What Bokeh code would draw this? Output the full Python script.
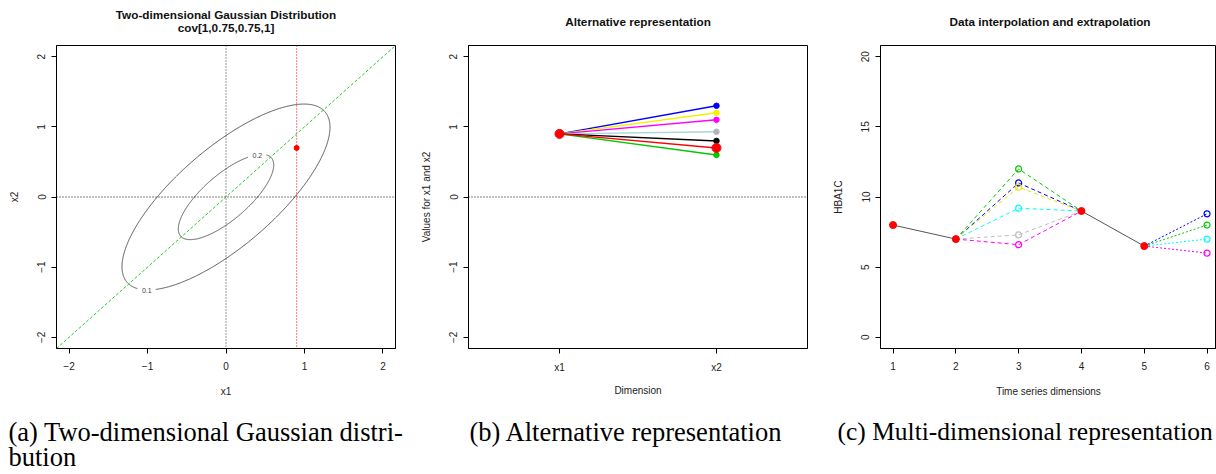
import numpy as np
from bokeh.plotting import figure
from bokeh.models import FixedTicker, Span, Slope, Range1d
from bokeh.layouts import row, column
from bokeh.embed import file_html
from bokeh.resources import INLINE
from bokeh.core.properties import value

# ---------------- Panel (a): two-dimensional Gaussian ----------------
gauss_mean = [0.0, 0.0]
gauss_cov = [1.0, 0.75, 0.75, 1.0]
contour_levels = [0.1, 0.2]
contour_labels = ["0.1", "0.2"]
contour_label_x = [-1.01, 0.40]
contour_label_y = [-1.33, 0.59]
obs_point_x1 = [0.9]
obs_point_x2 = [0.7]
a_ticks = [-2, -1, 0, 1, 2]
a_title = ["Two-dimensional Gaussian Distribution", "cov[1,0.75,0.75,1]"]
a_caption = ["(a) Two-dimensional Gaussian distri-", "bution"]

# ---------------- Panel (b): alternative representation ----------------
b_dims = ["x1", "x2"]
b_dim_pos = [1, 2]
b_start = 0.9
b_end = [1.3, 1.2, 1.1, 0.93, 0.8, 0.6, 0.7]
b_colors = ["#0000FF", "#F2F200", "#FF00FF", "#A9D6D6", "#000000", "#00C800", "#FF0000"]
b_point_colors = ["#0000FF", "#F2F200", "#FF00FF", "#B4B4B4", "#000000", "#00C800", "#FF0000"]
b_yticks = [-2, -1, 0, 1, 2]
b_title = ["Alternative representation"]
b_caption = ["(b) Alternative representation"]

# ---------------- Panel (c): interpolation / extrapolation ----------------
c_obs_x = [1, 2, 4, 5]
c_obs_y = [8, 7, 9, 6.5]
c_interp_x = 3
c_interp_vals = [12, 11, 10.7, 9.2, 7.3, 6.6]
c_interp_colors = ["#00C800", "#0000FF", "#E6E600", "#00FFFF", "#BEBEBE", "#FF00FF"]
c_extrap_x = 6
c_extrap_vals = [8.8, 8.0, 7.0, 6.0]
c_extrap_colors = ["#0000FF", "#00C800", "#00FFFF", "#FF00FF"]
c_xticks = [1, 2, 3, 4, 5, 6]
c_yticks = [0, 5, 10, 15, 20]
c_title = ["Data interpolation and extrapolation"]
c_caption = ["(c) Multi-dimensional representation"]

SANS = "Liberation Sans"
SERIF = "Liberation Serif"

# ---------------- layout constants (pixels) ----------------
W, H = 1216, 474
PANEL_W = [412, 412, 392]
PANEL_X0 = [0, 412, 824]
FRAME_L = 56
FRAME_W = 339
TOP_STRIP = 40
MAIN_H = 365          # frame 45..348, border below to 405
CAP_H = H - TOP_STRIP - MAIN_H


def style(p, x_label_standoff=13):
    p.xgrid.visible = False
    p.ygrid.visible = False
    p.outline_line_color = "black"
    p.outline_line_width = 1
    p.outline_line_alpha = 1
    for ax in p.axis:
        ax.major_tick_out = 5
        ax.major_tick_in = 0
        ax.minor_tick_out = 0
        ax.minor_tick_in = 0
        ax.axis_line_color = "black"
        ax.major_tick_line_color = "black"
        ax.major_label_text_font = SANS
        ax.major_label_text_font_size = "10px"
        ax.major_label_text_color = "#222222"
        ax.axis_label_text_font = SANS
        ax.axis_label_text_font_size = "10px"
        ax.axis_label_text_font_style = "normal"
        ax.axis_label_text_color = "#222222"
    p.xaxis.major_label_standoff = 8
    p.xaxis.axis_label_standoff = x_label_standoff
    p.yaxis.major_label_standoff = 6
    p.yaxis.axis_label_standoff = 15
    p.yaxis.major_label_orientation = "vertical"


def make_fig(width, xr, yr, right_border=17):
    p = figure(width=width, height=MAIN_H, output_backend="svg", toolbar_location=None,
               title=None, x_range=Range1d(*xr), y_range=Range1d(*yr),
               min_border_left=FRAME_L, min_border_right=right_border,
               min_border_top=5, min_border_bottom=57)
    return p


def strip(height, y_top):
    s = figure(width=W, height=height, output_backend="svg", toolbar_location=None,
               title=None, x_range=Range1d(0, W), y_range=Range1d(y_top + height, y_top),
               x_axis_type=None, y_axis_type=None, min_border=0)
    s.xgrid.visible = False
    s.ygrid.visible = False
    s.outline_line_color = None
    return s


# ===== Panel (a) =====
pa = make_fig(PANEL_W[0], (-2.16, 2.16), (-2.16, 2.16))
style(pa)
pa.xaxis.ticker = FixedTicker(ticks=a_ticks)
pa.yaxis.ticker = FixedTicker(ticks=a_ticks)
pa.xaxis.axis_label = "x1"
pa.yaxis.axis_label = "x2"

S = np.array(gauss_cov).reshape(2, 2)
det = np.linalg.det(S)
norm = 1.0 / (2 * np.pi * np.sqrt(det))
Lc = np.linalg.cholesky(S)
t = np.linspace(0, 2 * np.pi, 721)
px_x = 339 / 4.32
px_y = 303 / 4.32
for lev, lx, ly in zip(contour_levels, contour_label_x, contour_label_y):
    q = -2 * np.log(lev / norm)
    pts = Lc @ np.vstack([np.cos(t), np.sin(t)]) * np.sqrt(q)
    ex = pts[0] + gauss_mean[0]
    ey = pts[1] + gauss_mean[1]
    gap = (np.abs((ex - lx) * px_x) < 9) & (np.abs((ey - ly) * px_y) < 7)
    ex = np.where(gap, np.nan, ex)
    ey = np.where(gap, np.nan, ey)
    pa.line(ex, ey, line_color="#555555", line_width=1)

pa.text(contour_label_x, contour_label_y, text=contour_labels, text_font=value(SANS),
        text_font_size="7px", text_align="center", text_baseline="middle",
        text_color="#444444")

pa.add_layout(Span(location=0, dimension="height", line_color="#333333",
                   line_dash="1 2", line_width=1))
pa.add_layout(Span(location=0, dimension="width", line_color="#000000",
                   line_dash="1 2", line_width=1))
pa.add_layout(Span(location=obs_point_x1[0], dimension="height", line_color="#FF0000",
                   line_dash="1 2", line_width=1))
pa.add_layout(Slope(gradient=1, y_intercept=0, line_color="#22CC22",
                    line_dash="3 2", line_width=1))
pa.scatter(obs_point_x1, obs_point_x2, size=5, color="#FF0000")

# ===== Panel (b) =====
pb = make_fig(PANEL_W[1], (0.42, 2.58), (-2.16, 2.16))
style(pb, x_label_standoff=9)
pb.xaxis.ticker = FixedTicker(ticks=b_dim_pos)
pb.xaxis.major_label_overrides = {pos: lab for pos, lab in zip(b_dim_pos, b_dims)}
pb.yaxis.ticker = FixedTicker(ticks=b_yticks)
pb.xaxis.axis_label = "Dimension"
pb.yaxis.axis_label = "Values for x1 and x2"
pb.add_layout(Span(location=0, dimension="width", line_color="#000000",
                   line_dash="1 2", line_width=1))
n = len(b_end)
pb.segment(x0=[b_dim_pos[0]] * n, y0=[b_start] * n, x1=[b_dim_pos[1]] * n, y1=b_end,
           line_color=b_colors, line_width=1.5)
sizes = [9 if c == "#FF0000" else 5.5 for c in b_point_colors]
pb.scatter([b_dim_pos[1]] * n, b_end, size=sizes, color=b_point_colors)
pb.scatter([b_dim_pos[0]], [b_start], size=9, color="#FF0000")

# ===== Panel (c) =====
pc = make_fig(PANEL_W[2], (0.8, 0.8 + 336 / 62.8), (-0.8, 20.8), right_border=0)
style(pc)
pc.xaxis.ticker = FixedTicker(ticks=c_xticks)
pc.yaxis.ticker = FixedTicker(ticks=c_yticks)
pc.xaxis.axis_label = "Time series dimensions"
pc.yaxis.axis_label = "HBA1C"

for v, col in zip(c_interp_vals, c_interp_colors):
    pc.line([c_obs_x[1], c_interp_x, c_obs_x[2]], [c_obs_y[1], v, c_obs_y[2]],
            line_color=col, line_width=1, line_dash="4 3")
for v, col in zip(c_extrap_vals, c_extrap_colors):
    pc.line([c_obs_x[3], c_extrap_x], [c_obs_y[3], v],
            line_color=col, line_width=1, line_dash="2 2")
pc.line(c_obs_x[:2], c_obs_y[:2], line_color="#555555", line_width=1)
pc.line(c_obs_x[2:], c_obs_y[2:], line_color="#555555", line_width=1)
pc.scatter([c_interp_x] * len(c_interp_vals), c_interp_vals, size=6, fill_color=None,
           line_color=c_interp_colors, line_width=1.2)
pc.scatter([c_extrap_x] * len(c_extrap_vals), c_extrap_vals, size=6, fill_color=None,
           line_color=c_extrap_colors, line_width=1.2)
pc.scatter(c_obs_x, c_obs_y, size=7, color="#FF0000")

# ===== Title strip (page coordinates, y downwards) =====
top = strip(TOP_STRIP, 0)
centers = [x0 + FRAME_L + FRAME_W / 2 for x0 in PANEL_X0]
title_x, title_y, title_txt = [], [], []
for cx, lines in zip(centers, [a_title, b_title, c_title]):
    if len(lines) == 2:
        ys = [14, 27]
    else:
        ys = [21]
    for yy, tt in zip(ys, lines):
        title_x.append(cx)
        title_y.append(yy)
        title_txt.append(tt)
top.text(title_x, title_y, text=title_txt, text_font=value(SANS), text_font_size="11.75px",
         text_font_style="bold", text_align="center", text_baseline="middle",
         text_color="#111111")

# ===== Caption strip (page coordinates, y downwards) =====
cap = strip(CAP_H, TOP_STRIP + MAIN_H)
cap.text([8, 8, 469], [431, 456, 431], text=[a_caption[0], a_caption[1], b_caption[0]],
         text_font=value(SERIF), text_font_size="26.5px", text_align="left",
         text_baseline="middle", text_color="#000000")
cap.text([837], [431], text=c_caption, text_font=value(SERIF), text_font_size="25.5px",
         text_align="left", text_baseline="middle", text_color="#000000")

layout = column(top, row(pa, pb, pc, spacing=0), cap, spacing=0)
open("out.html", "w").write(file_html(layout, INLINE))
